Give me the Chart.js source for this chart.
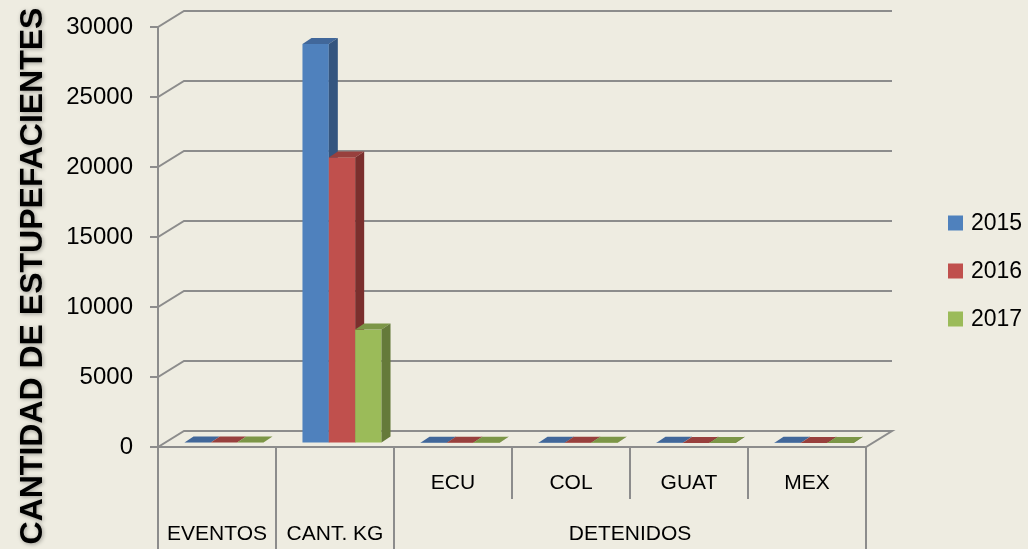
<!DOCTYPE html>
<html>
<head>
<meta charset="utf-8">
<script src="https://cdn.jsdelivr.net/npm/chart.js@4.4.1/dist/chart.umd.min.js"></script>
<style>
  html, body { margin: 0; padding: 0; background: #EEECE1; }
  canvas { display: block; }
</style>
</head>
<body>
<canvas id="chart" width="1028" height="549"></canvas>
<script>
// Data
const categories = ['EVENTOS', 'CANT. KG', 'ECU', 'COL', 'GUAT', 'MEX'];
const subLabels = ['', '', 'ECU', 'COL', 'GUAT', 'MEX'];
const groupLabels = ['EVENTOS', 'CANT. KG', 'DETENIDOS'];
const groupSpans = [1, 1, 4];
const years = ['2015', '2016', '2017'];
const values2015 = [40, 28500, 20, 15, 10, 10];
const values2016 = [35, 20400, 15, 12, 8, 8];
const values2017 = [30, 8100, 10, 10, 6, 6];
const yTicks = [0, 5000, 10000, 15000, 20000, 25000, 30000];

// 3D look
const wallDepth = { x: 26, y: -16 };
const barShift = { x: 7, y: -4 };
const barDepth = { x: 9, y: -6 };
const gridColor = '#8c8c8c';
const font = "'Liberation Sans', Arial, sans-serif";

function poly(ctx, pts, color) {
  ctx.beginPath();
  ctx.moveTo(pts[0][0], pts[0][1]);
  pts.slice(1).forEach(p => ctx.lineTo(p[0], p[1]));
  ctx.closePath();
  ctx.fillStyle = color;
  ctx.fill();
}

const chart3d = {
  id: 'chart3d',
  beforeDraw(chart) {
    const ctx = chart.ctx;
    ctx.save();
    ctx.fillStyle = '#EEECE1';
    ctx.fillRect(0, 0, chart.width, chart.height);
    ctx.restore();
  },
  beforeDatasetsDraw(chart) {
    const { ctx, chartArea: a, scales: { x, y } } = chart;
    ctx.save();
    ctx.strokeStyle = gridColor;
    ctx.lineWidth = 2;
    // back wall grid lines with tick marks
    yTicks.forEach(v => {
      const py = y.getPixelForValue(v);
      ctx.beginPath();
      ctx.moveTo(a.left - 8, py);
      ctx.lineTo(a.left, py);
      ctx.lineTo(a.left + wallDepth.x, py + wallDepth.y);
      ctx.lineTo(a.right + wallDepth.x, py + wallDepth.y);
      if (v === 0) {
        ctx.lineTo(a.right, py);
        ctx.lineTo(a.left, py);
      }
      ctx.stroke();
    });
    // front left axis
    ctx.beginPath();
    ctx.moveTo(a.left, y.getPixelForValue(yTicks[yTicks.length - 1]));
    ctx.lineTo(a.left, a.bottom);
    ctx.stroke();

    // category table under the floor
    const cw = (a.right - a.left) / categories.length;
    let idx = 0;
    const full = [0];
    groupSpans.forEach(s => { idx += s; full.push(idx); });
    for (let i = 0; i <= categories.length; i++) {
      const px = a.left + i * cw;
      ctx.beginPath();
      ctx.moveTo(px, a.bottom);
      ctx.lineTo(px, full.includes(i) ? chart.height : a.bottom + 52);
      ctx.stroke();
    }
    ctx.fillStyle = '#000';
    ctx.textAlign = 'center';
    ctx.textBaseline = 'middle';
    ctx.font = '21px ' + font;
    subLabels.forEach((s, i) => {
      if (s) ctx.fillText(s, x.getPixelForValue(i), a.bottom + 36);
    });
    let start = 0;
    groupLabels.forEach((g, gi) => {
      const cx = a.left + (start + groupSpans[gi] / 2) * cw;
      ctx.fillText(g, cx, a.bottom + 87);
      start += groupSpans[gi];
    });
    ctx.restore();
  },
  beforeDatasetDraw() {
    return false;
  },
  afterDatasetsDraw(chart) {
    const ctx = chart.ctx;
    ctx.save();
    ctx.translate(barShift.x, barShift.y);
    for (let i = 0; i < chart.data.labels.length; i++) {
      chart.data.datasets.forEach((ds, di) => {
        const bar = chart.getDatasetMeta(di).data[i];
        const l = bar.x - bar.width / 2;
        const r = bar.x + bar.width / 2;
        const top = bar.y;
        const base = bar.base;
        ctx.fillStyle = ds.backgroundColor;
        ctx.fillRect(l, top, r - l, base - top);
        poly(ctx, [[l, top], [l + barDepth.x, top + barDepth.y], [r + barDepth.x, top + barDepth.y], [r, top]], ds.topColor);
        poly(ctx, [[r, top], [r + barDepth.x, top + barDepth.y], [r + barDepth.x, base + barDepth.y], [r, base]], ds.sideColor);
      });
    }
    ctx.restore();
  },
  afterDraw(chart) {
    const ctx = chart.ctx;
    ctx.save();
    // legend
    ctx.font = '23px ' + font;
    ctx.textBaseline = 'middle';
    ctx.textAlign = 'left';
    chart.data.datasets.forEach((ds, i) => {
      const cy = 223 + i * 48;
      ctx.fillStyle = ds.backgroundColor;
      ctx.fillRect(948, cy - 7.5, 15, 15);
      ctx.fillStyle = '#000';
      ctx.fillText(ds.label, 971, cy + 1);
    });
    // y axis title
    ctx.translate(42, 276);
    ctx.rotate(-Math.PI / 2);
    ctx.textAlign = 'center';
    ctx.textBaseline = 'alphabetic';
    ctx.font = 'bold 32px ' + font;
    ctx.shadowColor = 'rgba(0,0,0,0.35)';
    ctx.shadowBlur = 4;
    ctx.shadowOffsetX = 1;
    ctx.shadowOffsetY = 1;
    ctx.fillStyle = '#000';
    ctx.fillText('CANTIDAD DE ESTUPEFACIENTES', 0, 0);
    ctx.restore();
  }
};

new Chart(document.getElementById('chart'), {
  type: 'bar',
  data: {
    labels: categories,
    datasets: [
      { label: years[0], data: values2015, backgroundColor: '#4F81BD', topColor: '#41679A', sideColor: '#34557F' },
      { label: years[1], data: values2016, backgroundColor: '#C0504D', topColor: '#98403D', sideColor: '#7A2F2D' },
      { label: years[2], data: values2017, backgroundColor: '#9BBB59', topColor: '#7C9647', sideColor: '#657A3A' }
    ]
  },
  options: {
    responsive: false,
    animation: false,
    datasets: { bar: { categoryPercentage: 0.67, barPercentage: 1.0 } },
    layout: { padding: { left: 58, right: 162, top: 27, bottom: 102 } },
    plugins: { legend: { display: false }, tooltip: { enabled: false } },
    scales: {
      x: { display: false },
      y: {
        min: 0,
        max: 30000,
        ticks: {
          stepSize: 5000,
          padding: 25,
          color: '#000',
          font: { size: 24, family: font },
          callback: v => String(v)
        },
        grid: { color: 'transparent', drawTicks: false },
        border: { display: false },
        afterFit(scale) {
          scale.width = 100;
          scale.paddingTop = 0;
          scale.paddingBottom = 0;
        }
      }
    }
  },
  plugins: [chart3d]
});
</script>
</body>
</html>
